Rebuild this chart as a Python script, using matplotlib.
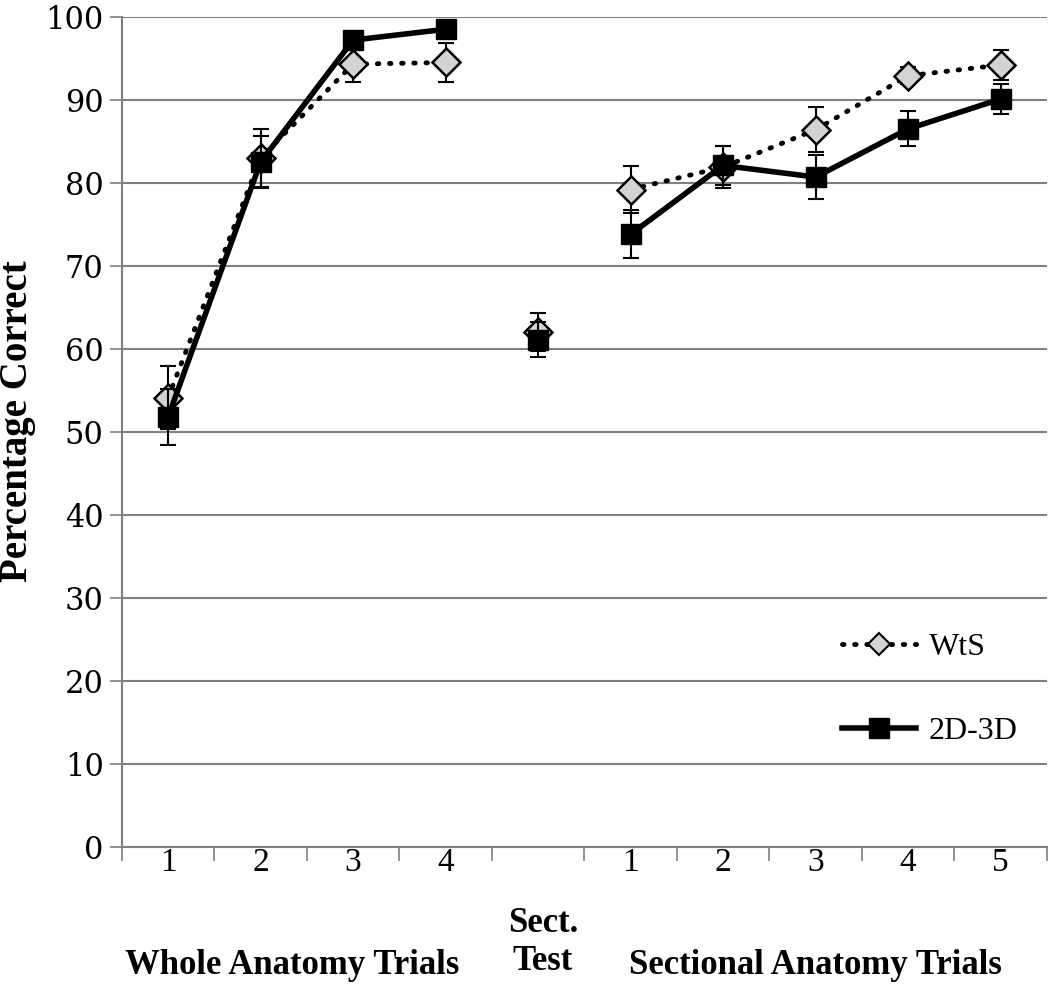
import numpy as np
import matplotlib
matplotlib.use("Agg")
import matplotlib.pyplot as plt
from matplotlib.lines import Line2D

plt.rcParams["font.family"] = ["Liberation Serif", "DejaVu Serif"]

# categorias: 4 ensaios de anatomia completa, teste seccional, 5 ensaios seccionais
tick_labels = ["1", "2", "3", "4", "", "1", "2", "3", "4", "5"]
group_labels = ["Whole Anatomy Trials", "Sect.\nTest", "Sectional Anatomy Trials"]

wts_mean = [54.1, 83.0, 94.3, 94.5, 62.0, 79.2, 81.9, 86.4, 92.9, 94.2]
wts_err = [3.8, 3.5, 2.2, 2.3, 2.3, 2.8, 2.5, 2.7, 1.0, 1.8]
d23_mean = [51.8, 82.5, 97.2, 98.5, 61.1, 73.8, 82.1, 80.7, 86.5, 90.1]
d23_err = [3.4, 3.1, 1.0, 1.0, 2.1, 2.9, 2.4, 2.6, 2.1, 1.8]

# segmentos ligados por linha (o teste seccional fica isolado)
segments = [slice(0, 4), slice(4, 5), slice(5, 10)]

fig = plt.figure(figsize=(10.5, 9.9), dpi=100)
ax = fig.add_axes([0.116, 0.1444, 0.881, 0.8386])

x = np.arange(1, len(tick_labels) + 1)

wts_m = np.array(wts_mean)
d23_m = np.array(d23_mean)

for sl in segments:
    ax.errorbar(x[sl], wts_m[sl], yerr=np.array(wts_err)[sl], fmt="none",
                ecolor="black", elinewidth=1.5, capsize=6, capthick=1.5, zorder=3)
    ax.plot(x[sl], wts_m[sl], color="black", lw=3.5, linestyle=(0, (0.3, 2.2)),
            dash_capstyle="round", marker="D", ms=14, mfc="#d3d3d3",
            mec="black", mew=1.8, zorder=4)

for sl in segments:
    ax.errorbar(x[sl], d23_m[sl], yerr=np.array(d23_err)[sl], fmt="none",
                ecolor="black", elinewidth=1.5, capsize=6, capthick=1.5, zorder=5)
    ax.plot(x[sl], d23_m[sl], color="black", lw=4, linestyle="-",
            marker="s", ms=15, mfc="black", mec="black", zorder=6)

ax.set_xlim(0.5, len(x) + 0.5)
ax.set_ylim(0, 100)
ax.set_yticks(np.arange(0, 101, 10))
ax.tick_params(axis="y", labelsize=22, length=9, width=1.2, color="#808080",
               direction="out", pad=4)
for lab in ax.get_yticklabels():
    lab.set_family("DejaVu Serif")
ax.yaxis.grid(True, color="#808080", lw=1.5)
ax.set_axisbelow(True)

# marcas do eixo x entre categorias, rótulos centrados
ax.set_xticks(np.arange(0.5, len(x) + 1, 1))
ax.set_xticklabels([])
ax.set_xticks(x, minor=True)
ax.set_xticklabels(tick_labels, minor=True, fontsize=24)
ax.tick_params(axis="x", which="major", length=10, width=1.2, color="#808080",
               direction="out")
ax.tick_params(axis="x", which="minor", length=0, pad=0)

for side in ["top", "right"]:
    ax.spines[side].set_visible(False)
for side in ["left", "bottom"]:
    ax.spines[side].set_color("#808080")
    ax.spines[side].set_linewidth(1.5)

ax.set_ylabel("Percentage Correct", fontsize=28, fontweight="bold")
ax.yaxis.set_label_coords(-0.093, 0.513)

fig.text(292 / 1050, 1 - 965 / 990, group_labels[0], ha="center", va="center",
         fontsize=25, fontweight="bold")
fig.text(543 / 1050, 1 - 943 / 990, group_labels[1], ha="center", va="center",
         fontsize=25, fontweight="bold", linespacing=1.2)
fig.text(815 / 1050, 1 - 965 / 990, group_labels[2], ha="center", va="center",
         fontsize=25, fontweight="bold")

handles = [
    Line2D([], [], color="black", lw=3.5, linestyle=(0, (0.3, 2.2)),
           dash_capstyle="round", marker="D", ms=11, mfc="#d3d3d3",
           mec="black", mew=1.5),
    Line2D([], [], color="black", lw=4, marker="s", ms=15, mfc="black",
           mec="black"),
]
ax.legend(handles, ["WtS", "2D-3D"], loc="center left",
          bbox_to_anchor=(0.779, 0.19), frameon=False, fontsize=23,
          handlelength=2.3, labelspacing=1.7, handletextpad=0.4,
          borderaxespad=0, borderpad=0)

fig.savefig("out.png", dpi=100)
